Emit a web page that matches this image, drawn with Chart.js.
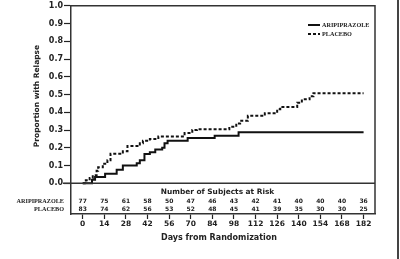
<!DOCTYPE html>
<html>
<head>
<meta charset="utf-8">
<script src="https://cdn.jsdelivr.net/npm/chart.js@4.4.1/dist/chart.umd.min.js"></script>
<style>
  html, body { margin: 0; padding: 0; background: #fff; }
  #chart { display: block; }
</style>
</head>
<body>
<canvas id="chart" width="400" height="259"></canvas>
<script>
// Kaplan-Meier style step data
const aripDays = [0, 6, 8, 14.5, 22, 26, 35, 37, 40, 43.5, 47, 51.5, 53, 55, 68, 85.5, 101, 182];
const aripProp = [0, 0.02, 0.035, 0.054, 0.077, 0.10, 0.113, 0.13, 0.165, 0.175, 0.19, 0.20, 0.225, 0.24, 0.255, 0.268, 0.287, 0.287];
const placDays = [0, 2, 4.5, 6.5, 9, 10, 13, 16, 18, 26, 29, 37, 39, 43.5, 49, 66, 71, 74, 95, 99.5, 102, 107, 118, 126, 128, 139, 142, 147, 149.5, 182];
const placProp = [0, 0.017, 0.03, 0.045, 0.07, 0.09, 0.11, 0.13, 0.166, 0.18, 0.21, 0.225, 0.24, 0.25, 0.264, 0.283, 0.30, 0.305, 0.318, 0.337, 0.352, 0.38, 0.395, 0.417, 0.43, 0.454, 0.473, 0.49, 0.508, 0.508];

// Number of subjects at risk
const riskDays = [0, 14, 28, 42, 56, 70, 84, 98, 112, 126, 140, 154, 168, 182];
const riskArip = [77, 75, 61, 58, 50, 47, 46, 43, 42, 41, 40, 40, 40, 36];
const riskPlac = [83, 74, 62, 56, 53, 52, 48, 45, 41, 39, 35, 30, 30, 25];

const yTicks = [0, 0.1, 0.2, 0.3, 0.4, 0.5, 0.6, 0.7, 0.8, 0.9, 1.0];

const SANS = '"DejaVu Sans", sans-serif';
const SERIF = '"Liberation Serif", serif';

// Frame, zero line, at-risk table, legend and titles
const decorations = {
    id: 'decorations',
    afterDraw(chart) {
        const ctx = chart.ctx;
        const area = chart.chartArea;
        const x = chart.scales.x;
        const y = chart.scales.y;
        ctx.save();

        // box top / right
        ctx.strokeStyle = '#333';
        ctx.lineWidth = 1.5;
        ctx.beginPath();
        ctx.moveTo(area.left, area.top);
        ctx.lineTo(area.right, area.top);
        ctx.lineTo(area.right, area.bottom);
        ctx.stroke();

        // zero line
        const y0 = y.getPixelForValue(0);
        ctx.beginPath();
        ctx.moveTo(area.left - 8, y0);
        ctx.lineTo(area.right, y0);
        ctx.stroke();

        // at-risk table
        ctx.fillStyle = '#222';
        ctx.textAlign = 'center';
        ctx.textBaseline = 'middle';
        ctx.font = 'bold 7.4px ' + SANS;
        ctx.fillText('Number of Subjects at Risk', 217.5, 192);
        ctx.font = 'bold 6px ' + SANS;
        riskDays.forEach((d, i) => {
            const px = x.getPixelForValue(d);
            ctx.fillText(String(riskArip[i]), px, 201);
            ctx.fillText(String(riskPlac[i]), px, 209);
        });
        ctx.textAlign = 'right';
        ctx.font = 'bold 6.2px ' + SERIF;
        ctx.fillText('ARIPIPRAZOLE', 64, 201);
        ctx.fillText('PLACEBO', 64, 209);

        // legend
        ctx.lineWidth = 2;
        ctx.strokeStyle = '#111';
        ctx.beginPath();
        ctx.moveTo(308, 25);
        ctx.lineTo(320, 25);
        ctx.stroke();
        ctx.setLineDash([3, 2]);
        ctx.beginPath();
        ctx.moveTo(308, 34);
        ctx.lineTo(320, 34);
        ctx.stroke();
        ctx.setLineDash([]);
        ctx.textAlign = 'left';
        ctx.fillText('ARIPIPRAZOLE', 322, 25);
        ctx.fillText('PLACEBO', 322, 34);

        // axis titles
        ctx.textAlign = 'center';
        ctx.font = 'bold 8px ' + SANS;
        ctx.fillText('Days from Randomization', 219, 238);
        ctx.translate(37.5, 96);
        ctx.rotate(-Math.PI / 2);
        ctx.font = 'bold 7.5px ' + SANS;
        ctx.fillText('Proportion with Relapse', 0, 0);
        ctx.restore();

        // edge line at far right
        ctx.save();
        ctx.fillStyle = '#444';
        ctx.fillRect(397, 0, 2, 259);
        ctx.restore();
    }
};

new Chart(document.getElementById('chart'), {
    type: 'line',
    data: {
        datasets: [{
            label: 'ARIPIPRAZOLE',
            data: aripDays.map((d, i) => ({ x: d, y: aripProp[i] })),
            borderColor: '#111',
            borderWidth: 2,
            stepped: true,
            pointRadius: 0,
            fill: false
        }, {
            label: 'PLACEBO',
            data: placDays.map((d, i) => ({ x: d, y: placProp[i] })),
            borderColor: '#111',
            borderWidth: 2,
            borderDash: [3, 2],
            stepped: true,
            pointRadius: 0,
            fill: false
        }]
    },
    options: {
        responsive: false,
        animation: false,
        layout: { padding: { top: 4, right: 25, left: 0, bottom: 0 } },
        plugins: {
            legend: { display: false },
            tooltip: { enabled: false }
        },
        scales: {
            x: {
                type: 'linear',
                min: -7.6,
                max: 189.4,
                afterBuildTicks: (scale) => { scale.ticks = riskDays.map(v => ({ value: v })); },
                afterFit: (scale) => { scale.height = 45; },
                grid: { drawOnChartArea: false, tickLength: 5, tickColor: '#222', tickWidth: 1.2 },
                border: { color: '#333', width: 1.5 },
                ticks: {
                    autoSkip: false,
                    maxRotation: 0,
                    padding: 1,
                    color: '#222',
                    font: { family: SANS, size: 7.5, weight: 'bold' }
                }
            },
            y: {
                min: -0.173,
                max: 1.0,
                afterBuildTicks: (scale) => { scale.ticks = yTicks.map(v => ({ value: v })); },
                afterFit: (scale) => { scale.width = 71; },
                grid: { drawOnChartArea: false, tickLength: 7, tickColor: '#222', tickWidth: 1.2 },
                border: { color: '#333', width: 1.5 },
                ticks: {
                    autoSkip: false,
                    padding: 1,
                    color: '#222',
                    font: { family: SANS, size: 8, weight: 'bold' },
                    callback: (v) => v.toFixed(1)
                }
            }
        }
    },
    plugins: [decorations]
});
</script>
</body>
</html>
